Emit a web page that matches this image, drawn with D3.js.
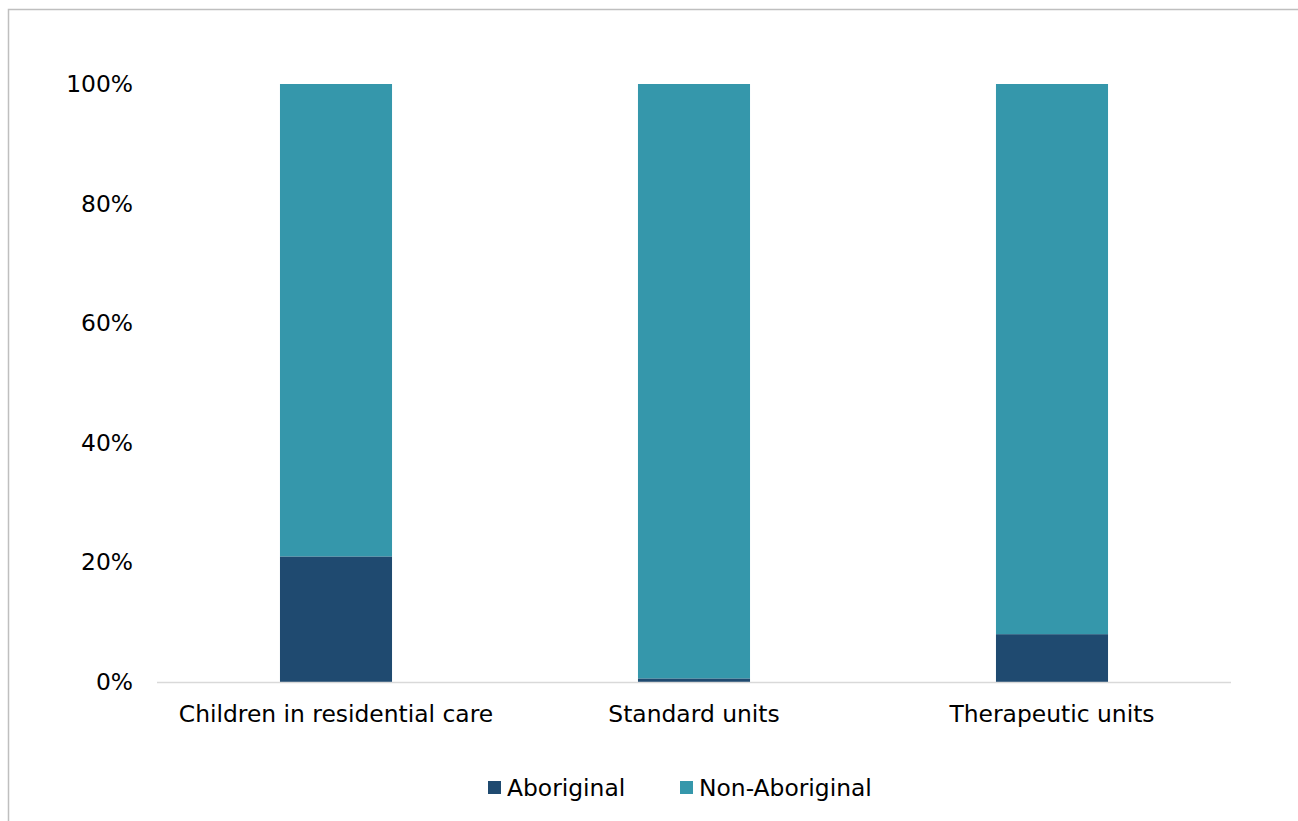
<!DOCTYPE html>
<html>
<head>
<meta charset="utf-8">
<script src="https://cdn.jsdelivr.net/npm/d3@7"></script>
<style>
  html, body { margin: 0; padding: 0; background: #fff; }
  svg { display: block; }
  text { font-family: "DejaVu Sans", Verdana, sans-serif; fill: #000; }
</style>
</head>
<body>
<svg id="chart" width="1298" height="821"></svg>
<script>
// Share of children by Aboriginal status, per placement type
const categories = ["Children in residential care", "Standard units", "Therapeutic units"];
const seriesNames = ["Aboriginal", "Non-Aboriginal"];
const aboriginal = [21, 0.6, 8];
const nonAboriginal = [79, 99.4, 92];
const yTicks = [0, 20, 40, 60, 80, 100];
const colors = ["#1f4a70", "#3597ab"];

const FONT = 23.4;
const svg = d3.select("#chart");
const margin = { left: 157, right: 1231, top: 84, bottom: 682 };

// outer frame
svg.append("rect")
  .attr("x", 8.5).attr("y", 9.5)
  .attr("width", 1400).attr("height", 1000)
  .attr("fill", "none").attr("stroke", "#bfbfbf").attr("stroke-width", 1.5);

const x = d3.scaleBand()
  .domain(categories)
  .range([margin.left, margin.right])
  .paddingInner(0.687)
  .paddingOuter(0.687 / 2);

const y = d3.scaleLinear()
  .domain([0, 100])
  .range([margin.bottom, margin.top]);

const rows = categories.map((c, i) => ({ cat: c, Aboriginal: aboriginal[i], "Non-Aboriginal": nonAboriginal[i] }));
const stack = d3.stack().keys(seriesNames)(rows);

svg.append("g")
  .selectAll("g")
  .data(stack)
  .join("g")
  .attr("fill", (d, i) => colors[i])
  .selectAll("rect")
  .data(d => d)
  .join("rect")
  .attr("x", d => x(d.data.cat))
  .attr("width", x.bandwidth())
  .attr("y", d => y(d[1]))
  .attr("height", d => y(d[0]) - y(d[1]));

// x axis baseline
svg.append("line")
  .attr("x1", margin.left).attr("x2", margin.right)
  .attr("y1", margin.bottom + 0.5).attr("y2", margin.bottom + 0.5)
  .attr("stroke", "#d9d9d9").attr("stroke-width", 1.5);

// y axis labels
const yAxis = d3.axisLeft(y).tickValues(yTicks).tickFormat(d => d + "%").tickSize(0).tickPadding(0);
const yg = svg.append("g").attr("transform", "translate(133,0)").call(yAxis);
yg.select(".domain").remove();
yg.selectAll("text").attr("font-size", FONT).attr("font-family", "DejaVu Sans, Verdana, sans-serif").attr("fill", "#000");

// x axis labels
const xAxis = d3.axisBottom(x).tickSize(0).tickPadding(0);
const xg = svg.append("g").attr("transform", "translate(0,705)").call(xAxis);
xg.select(".domain").remove();
xg.selectAll("text").attr("font-size", FONT).attr("font-family", "DejaVu Sans, Verdana, sans-serif").attr("fill", "#000");

// legend
const legendX = [488, 680];
const legend = svg.append("g");
seriesNames.forEach((name, i) => {
  legend.append("rect")
    .attr("x", legendX[i]).attr("y", 781)
    .attr("width", 13).attr("height", 13)
    .attr("fill", colors[i]);
  legend.append("text")
    .attr("x", legendX[i] + 19).attr("y", 788)
    .attr("dy", "0.35em")
    .attr("font-size", FONT)
    .text(name);
});
</script>
</body>
</html>
